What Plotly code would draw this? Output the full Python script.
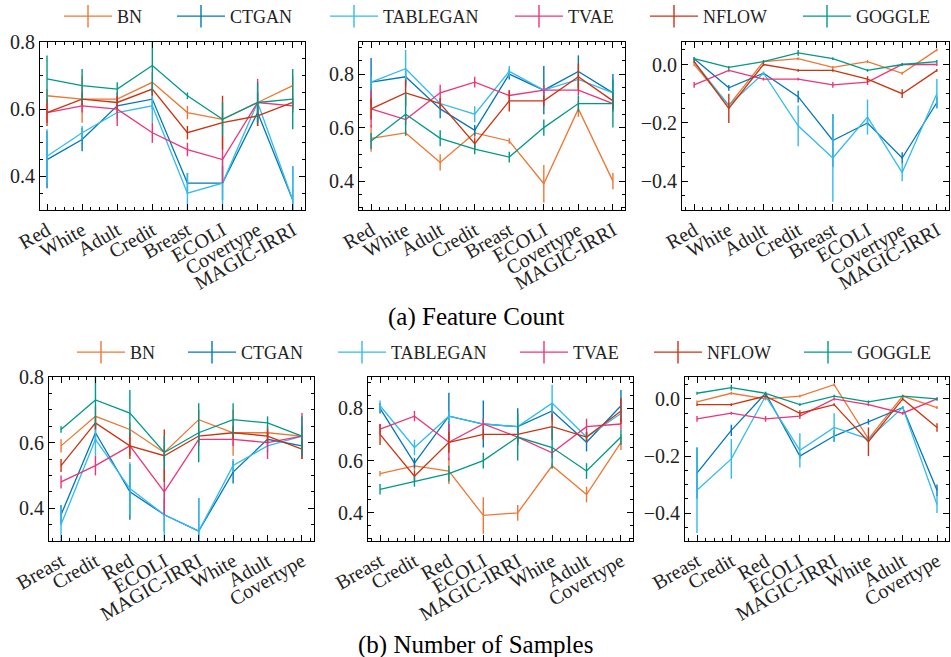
import plotly.graph_objects as go

# ---------------- data ----------------
cats_a = ["Red", "White", "Adult", "Credit", "Breast", "ECOLI", "Covertype", "MAGIC-IRRI"]
cats_b = ["Breast", "Credit", "Red", "ECOLI", "MAGIC-IRRI", "White", "Adult", "Covertype"]
methods = ["BN", "CTGAN", "TABLEGAN", "TVAE", "NFLOW", "GOGGLE"]
colors = ["#EE7733", "#0077BB", "#33BBEE", "#EE3377", "#CC3311", "#009988"]

# metric 1 (left panels), order of cats_a
m1_BN = [0.64, 0.63, 0.63, 0.68, 0.59, 0.57, 0.62, 0.67]
e1_BN = [0.02, 0.07, 0.01, 0.03, 0.02, 0.02, 0.03, 0.03]
m1_CTGAN = [0.45, 0.51, 0.61, 0.63, 0.38, 0.38, 0.59, 0.33]
e1_CTGAN = [0.085, 0.035, 0.02, 0.03, 0.03, 0.05, 0.03, 0.10]
m1_TABLEGAN = [0.46, 0.53, 0.59, 0.61, 0.35, 0.38, 0.62, 0.33]
e1_TABLEGAN = [0.08, 0.02, 0.02, 0.05, 0.06, 0.08, 0.03, 0.10]
m1_TVAE = [0.59, 0.61, 0.60, 0.53, 0.48, 0.45, 0.62, 0.61]
e1_TVAE = [0.03, 0.02, 0.05, 0.03, 0.02, 0.07, 0.07, 0.02]
m1_NFLOW = [0.59, 0.63, 0.62, 0.66, 0.53, 0.56, 0.58, 0.62]
e1_NFLOW = [0.04, 0.02, 0.02, 0.02, 0.02, 0.08, 0.03, 0.02]
m1_GOGGLE = [0.69, 0.67, 0.66, 0.73, 0.64, 0.57, 0.62, 0.63]
e1_GOGGLE = [0.07, 0.05, 0.02, 0.08, 0.01, 0.05, 0.06, 0.09]

# metric 2 (middle panels)
m2_BN = [0.56, 0.58, 0.47, 0.58, 0.55, 0.39, 0.67, 0.40]
e2_BN = [0.05, 0.01, 0.03, 0.02, 0.01, 0.07, 0.03, 0.03]
m2_CTGAN = [0.77, 0.79, 0.67, 0.59, 0.80, 0.74, 0.81, 0.73]
e2_CTGAN = [0.09, 0.03, 0.035, 0.02, 0.02, 0.09, 0.06, 0.07]
m2_TABLEGAN = [0.77, 0.82, 0.69, 0.65, 0.81, 0.74, 0.78, 0.73]
e2_TABLEGAN = [0.02, 0.07, 0.02, 0.03, 0.02, 0.02, 0.02, 0.02]
m2_TVAE = [0.67, 0.63, 0.73, 0.77, 0.72, 0.74, 0.74, 0.69]
e2_TVAE = [0.07, 0.02, 0.03, 0.02, 0.02, 0.02, 0.02, 0.02]
m2_NFLOW = [0.67, 0.73, 0.69, 0.54, 0.70, 0.70, 0.79, 0.70]
e2_NFLOW = [0.04, 0.05, 0.02, 0.02, 0.04, 0.02, 0.05, 0.03]
m2_GOGGLE = [0.55, 0.65, 0.56, 0.52, 0.49, 0.60, 0.69, 0.69]
e2_GOGGLE = [0.03, 0.08, 0.03, 0.02, 0.02, 0.03, 0.03, 0.09]

# metric 3 (right panels)
m3_BN = [0.00, -0.14, 0.01, 0.02, -0.01, 0.01, -0.03, 0.05]
e3_BN = [0.005, 0.005, 0.005, 0.005, 0.005, 0.005, 0.005, 0.005]
m3_CTGAN = [0.02, -0.08, -0.03, -0.11, -0.26, -0.20, -0.32, -0.13]
e3_CTGAN = [0.005, 0.01, 0.005, 0.02, 0.09, 0.01, 0.02, 0.02]
m3_TABLEGAN = [0.01, -0.14, -0.03, -0.21, -0.32, -0.18, -0.37, -0.10]
e3_TABLEGAN = [0.005, 0.01, 0.005, 0.07, 0.15, 0.06, 0.03, 0.05]
m3_TVAE = [-0.07, -0.02, -0.05, -0.05, -0.07, -0.06, 0.00, 0.00]
e3_TVAE = [0.01, 0.005, 0.005, 0.005, 0.01, 0.01, 0.005, 0.005]
m3_NFLOW = [0.01, -0.15, 0.00, -0.02, -0.02, -0.05, -0.10, -0.02]
e3_NFLOW = [0.005, 0.05, 0.005, 0.005, 0.005, 0.01, 0.015, 0.005]
m3_GOGGLE = [0.02, -0.01, 0.01, 0.04, 0.02, -0.02, 0.00, 0.01]
e3_GOGGLE = [0.005, 0.005, 0.005, 0.01, 0.005, 0.005, 0.005, 0.005]

captions = ["(a) Feature Count", "(b) Number of Samples"]

metric_vals = [
    [m1_BN, m1_CTGAN, m1_TABLEGAN, m1_TVAE, m1_NFLOW, m1_GOGGLE],
    [m2_BN, m2_CTGAN, m2_TABLEGAN, m2_TVAE, m2_NFLOW, m2_GOGGLE],
    [m3_BN, m3_CTGAN, m3_TABLEGAN, m3_TVAE, m3_NFLOW, m3_GOGGLE],
]
metric_errs = [
    [e1_BN, e1_CTGAN, e1_TABLEGAN, e1_TVAE, e1_NFLOW, e1_GOGGLE],
    [e2_BN, e2_CTGAN, e2_TABLEGAN, e2_TVAE, e2_NFLOW, e2_GOGGLE],
    [e3_BN, e3_CTGAN, e3_TABLEGAN, e3_TVAE, e3_NFLOW, e3_GOGGLE],
]

# ---------------- layout helpers ----------------
W, H = 951, 657
FONT = "Liberation Serif"
TXT = "#222222"

# panel frames in pixels: (x0, x1, y0_top, y1_bottom)
frames = [
    [(40, 305, 42, 210), (359, 625, 42, 210), (682, 949, 42, 210)],
    [(49, 314, 377, 541), (368, 633, 377, 541), (685, 949, 377, 541)],
]
xranges = [
    [[-0.2, 7.35], [-0.35, 7.35], [-0.35, 7.35]],
    [[-0.35, 7.35], [-0.35, 7.35], [-0.35, 7.35]],
]
yranges = [[0.3, 0.8], [0.292, 0.92], [-0.498, 0.077]]

# legend text start positions (px) and vertical centres
legend_text_x = [[119, 232, 385, 570, 705, 858], [132, 243, 393, 575, 709, 859]]
legend_y = [16.5, 352.5]

fig = go.Figure()
layout = dict(
    width=W, height=H,
    margin=dict(l=0, r=0, t=0, b=0, autoexpand=False),
    paper_bgcolor="white", plot_bgcolor="white",
    font=dict(family=FONT, size=20, color=TXT),
    showlegend=True,
)

order_maps = [list(range(len(cats_a))), [cats_a.index(c) for c in cats_b]]
cat_rows = [cats_a, cats_b]

ax = 0
leg = 0
for r in range(2):
    idx = order_maps[r]
    cats = cat_rows[r]
    xs = list(range(len(cats)))
    for c in range(3):
        ax += 1
        xa = "x" if ax == 1 else f"x{ax}"
        ya = "y" if ax == 1 else f"y{ax}"
        for k, m in enumerate(methods):
            vals = [metric_vals[c][k][i] for i in idx]
            errs = [metric_errs[c][k][i] for i in idx]
            fig.add_trace(go.Scatter(
                x=xs, y=vals, mode="lines", name=m,
                line=dict(color=colors[k], width=1.3),
                error_y=dict(type="data", array=errs, visible=True, width=0,
                             thickness=1.4, color=colors[k]),
                xaxis=xa, yaxis=ya, showlegend=False, cliponaxis=True,
            ))
        x0, x1, yt, yb = frames[r][c]
        axis_common = dict(
            showline=True, linecolor="black", linewidth=1, mirror="allticks",
            ticks="inside", ticklen=6, tickwidth=1, tickcolor="black",
            showgrid=False, zeroline=False, automargin=False,
            tickfont=dict(family=FONT, size=20, color=TXT),
        )
        layout["xaxis" if ax == 1 else f"xaxis{ax}"] = dict(
            domain=[x0 / W, x1 / W], anchor=ya, range=xranges[r][c],
            tickmode="array", tickvals=xs, ticktext=cats, tickangle=-30,
            minor=dict(ticks="inside", ticklen=3, tickwidth=0.8, tickcolor="black",
                       tickmode="linear", tick0=0, dtick=0.25, showgrid=False),
            **axis_common,
        )
        layout["yaxis" if ax == 1 else f"yaxis{ax}"] = dict(
            domain=[1 - yb / H, 1 - yt / H], anchor=xa, range=yranges[c],
            tickmode="linear", tick0=0, dtick=0.2, tickformat=".1f",
            minor=dict(ticks="inside", ticklen=3, tickwidth=0.8, tickcolor="black",
                       tickmode="linear", tick0=0, dtick=0.05, showgrid=False),
            **axis_common,
        )
    # legends for this row
    for k, m in enumerate(methods):
        leg += 1
        lname = "legend" if leg == 1 else f"legend{leg}"
        fig.add_trace(go.Scatter(
            x=[None], y=[None], mode="lines+markers", name=m,
            line=dict(color=colors[k], width=1.3),
            marker=dict(symbol="line-ns", size=16, color=colors[k],
                        line=dict(color=colors[k], width=1.4)),
            legend=lname, showlegend=True, xaxis="x", yaxis="y",
        ))
        layout[lname] = dict(
            x=(legend_text_x[r][k] - 60) / W, y=1 - legend_y[r] / H,
            xanchor="left", yanchor="middle", orientation="h",
            bgcolor="rgba(0,0,0,0)", borderwidth=0, itemwidth=48,
            font=dict(family=FONT, size=18, color=TXT),
        )

annotations = []
for r, cap in enumerate(captions):
    annotations.append(dict(
        text=cap, x=0.5, xref="paper", y=1 - [317, 645][r] / H, yref="paper",
        xanchor="center", yanchor="middle", showarrow=False,
        font=dict(family=FONT, size=25, color="black"),
    ))
layout["annotations"] = annotations

fig.update_layout(**layout)
fig.write_html("out.html", config={"displayModeBar": False},
               post_script="document.body.style.margin='0px';document.body.style.overflow='hidden';")
